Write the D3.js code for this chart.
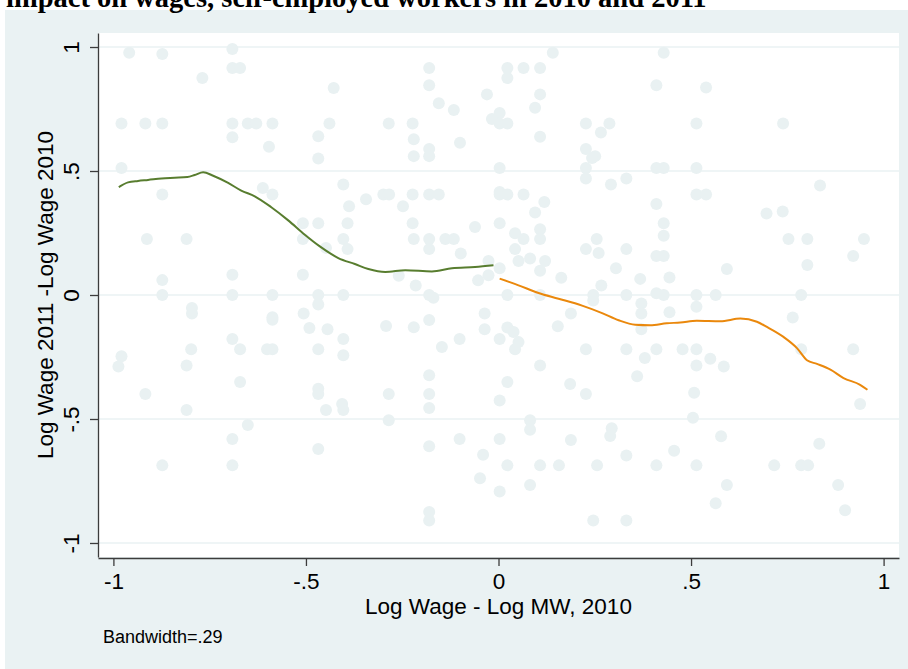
<!DOCTYPE html>
<html>

<head>
    <meta charset="UTF-8">
    <style>
        body { margin: 0; background: #ffffff; }
        svg { display: block; }
    </style>
</head>

<body>
    <svg></svg>
    <script src="https://d3js.org/d3.v7.min.js"></script>

    <script>

        let width = 908, height = 669;

        // scatter: [log wage - log MW 2010, log wage 2011 - log wage 2010]
        let scatterPoints = [
            [-0.959, 0.977], [-0.873, 0.972], [-0.691, 0.992], [-0.691, 0.915], [-0.671, 0.915], [-0.769, 0.875], [-0.428, 0.835],
            [-0.979, 0.692], [-0.917, 0.692], [-0.873, 0.692], [-0.691, 0.692], [-0.651, 0.692], [-0.629, 0.692], [-0.587, 0.692], [-0.439, 0.692],
            [-0.691, 0.636], [-0.596, 0.598], [-0.468, 0.64], [-0.468, 0.55], [-0.979, 0.512], [-0.873, 0.405], [-0.612, 0.431], [-0.587, 0.405],
            [-0.403, 0.446], [-0.388, 0.358], [-0.344, 0.386], [-0.508, 0.289], [-0.468, 0.289], [-0.392, 0.289], [-0.913, 0.226], [-0.81, 0.226],
            [-0.508, 0.226], [-0.403, 0.226], [-0.448, 0.19], [-0.392, 0.185], [-0.873, 0.06], [-0.691, 0.082], [-0.508, 0.082],
            [-0.873, 0], [-0.691, 0], [-0.587, 0], [-0.468, 0], [-0.403, 0], [-0.796, -0.052], [-0.796, -0.075], [-0.587, -0.09], [-0.587, -0.1],
            [-0.468, -0.038], [-0.506, -0.075], [-0.491, -0.133], [-0.444, -0.138], [-0.691, -0.177], [-0.403, -0.177], [-0.979, -0.247], [-0.987, -0.288],
            [-0.798, -0.219], [-0.81, -0.284], [-0.671, -0.219], [-0.601, -0.219], [-0.587, -0.219], [-0.468, -0.219], [-0.403, -0.243],
            [-0.917, -0.399], [-0.671, -0.351], [-0.468, -0.378], [-0.468, -0.399], [-0.406, -0.44], [-0.403, -0.464], [-0.448, -0.464], [-0.81, -0.464],
            [-0.651, -0.524], [-0.691, -0.581], [-0.468, -0.621], [-0.873, -0.687], [-0.691, -0.687],
            [-0.18, 0.915], [-0.18, 0.846], [-0.155, 0.773], [-0.116, 0.746], [-0.285, 0.692], [-0.223, 0.692], [-0.22, 0.628], [-0.22, 0.56], [-0.18, 0.589], [-0.18, 0.56],
            [-0.1, 0.614], [-0.03, 0.809], [-0.017, 0.71], [0.003, 0.734], [0.003, 0.692], [0.023, 0.692], [0.023, 0.915], [0.023, 0.875], [0.065, 0.915], [0.108, 0.915],
            [0.108, 0.809], [0.095, 0.755], [0.108, 0.638], [0.141, 0.977], [0.227, 0.692], [0.288, 0.692], [0.266, 0.655], [0.227, 0.589], [0.251, 0.56], [0.243, 0.552],
            [0.227, 0.512], [0.227, 0.47], [0.292, 0.446], [0.332, 0.47], [0.003, 0.512], [-0.299, 0.405], [-0.284, 0.405], [-0.223, 0.405], [-0.18, 0.405], [-0.155, 0.405],
            [-0.248, 0.358], [-0.223, 0.289], [-0.061, 0.274], [0.003, 0.415], [0.003, 0.405], [0.023, 0.405], [0.065, 0.405], [0.119, 0.375], [0.095, 0.333], [0.003, 0.289],
            [0.043, 0.249], [0.108, 0.265], [0.108, 0.226], [0.065, 0.226], [-0.22, 0.226], [-0.18, 0.226], [-0.18, 0.185], [-0.138, 0.226], [-0.116, 0.226], [-0.098, 0.167],
            [0.043, 0.185], [0.052, 0.137], [0.082, 0.147], [0.121, 0.137], [0.108, 0.098], [0.163, 0.07], [0.227, 0.185], [0.255, 0.226], [0.26, 0.169], [0.332, 0.185],
            [0.305, 0.108], [0.267, 0.038], [0.246, 0], [0.246, -0.022], [0.332, 0], [-0.259, 0.078], [-0.215, 0.038], [-0.18, 0], [-0.169, -0.011], [-0.053, 0.059],
            [-0.026, 0.08], [-0.026, 0.137], [0.003, 0.108], [0.023, 0], [0.108, 0], [-0.292, -0.125], [-0.22, -0.13], [-0.18, -0.101], [-0.147, -0.21], [-0.101, -0.177],
            [-0.036, -0.075], [-0.036, -0.138], [0.003, -0.177], [0.023, -0.131], [0.039, -0.149], [0.052, -0.19], [0.043, -0.219], [0.154, -0.126], [0.188, -0.075], [0.227, -0.219],
            [0.332, -0.219], [0.108, -0.284], [0.023, -0.351], [0.003, -0.425], [0.186, -0.359], [0.227, -0.399], [-0.285, -0.399], [-0.18, -0.324], [-0.18, -0.399], [-0.18, -0.456],
            [-0.285, -0.505], [0.082, -0.505], [0.082, -0.543], [0.294, -0.537], [0.29, -0.569], [-0.18, -0.61], [-0.101, -0.581], [0.003, -0.581], [0.188, -0.585], [-0.04, -0.644],
            [0.023, -0.687], [0.108, -0.687], [0.157, -0.687], [0.256, -0.687], [0.332, -0.647], [-0.048, -0.739], [0.003, -0.792], [0.082, -0.766], [-0.18, -0.875], [-0.18, -0.909],
            [0.246, -0.909], [0.332, -0.909],
            [0.429, 0.977], [0.41, 0.846], [0.539, 0.837], [0.514, 0.692], [0.739, 0.692], [0.41, 0.512], [0.429, 0.512], [0.514, 0.512], [0.514, 0.405], [0.539, 0.405],
            [0.835, 0.442], [0.41, 0.367], [0.696, 0.329], [0.738, 0.337], [0.429, 0.289], [0.429, 0.239], [0.753, 0.226], [0.802, 0.226], [0.949, 0.226], [0.41, 0.157],
            [0.429, 0.157], [0.921, 0.157], [0.802, 0.121], [0.593, 0.105], [0.368, 0.065], [0.444, 0.071], [0.41, 0.007], [0.429, 0], [0.514, 0], [0.564, 0],
            [0.786, 0], [0.371, -0.034], [0.371, -0.075], [0.371, -0.138], [0.444, -0.07], [0.514, -0.047], [0.764, -0.091], [0.41, -0.219], [0.478, -0.219], [0.514, -0.219],
            [0.786, -0.219], [0.921, -0.219], [0.38, -0.254], [0.36, -0.328], [0.514, -0.284], [0.55, -0.257], [0.585, -0.288], [0.508, -0.394], [0.505, -0.495], [0.939, -0.44],
            [0.578, -0.57], [0.456, -0.628], [0.833, -0.6], [0.41, -0.687], [0.514, -0.687], [0.716, -0.687], [0.786, -0.687], [0.804, -0.687], [0.593, -0.766], [0.882, -0.766],
            [0.564, -0.84], [0.9, -0.868]
        ];

        // lowess fit below the minimum wage (x < 0)
        let lowessBelow = [
            [-0.986, 0.435], [-0.962, 0.454], [-0.936, 0.46], [-0.91, 0.464], [-0.875, 0.47], [-0.841, 0.473], [-0.808, 0.476],
            [-0.789, 0.484], [-0.767, 0.495], [-0.741, 0.481], [-0.702, 0.452], [-0.668, 0.421], [-0.633, 0.398], [-0.59, 0.354],
            [-0.546, 0.301], [-0.503, 0.243], [-0.464, 0.196], [-0.416, 0.149], [-0.373, 0.125], [-0.338, 0.105], [-0.294, 0.093],
            [-0.242, 0.1], [-0.173, 0.095], [-0.121, 0.108], [-0.061, 0.113], [-0.013, 0.12]
        ];

        // lowess fit above the minimum wage (x > 0)
        let lowessAbove = [
            [0.003, 0.066], [0.052, 0.039], [0.104, 0.008], [0.156, -0.015], [0.217, -0.043], [0.269, -0.073], [0.312, -0.102],
            [0.355, -0.12], [0.394, -0.122], [0.437, -0.114], [0.472, -0.111], [0.515, -0.104], [0.576, -0.106], [0.628, -0.095],
            [0.671, -0.108], [0.697, -0.129], [0.74, -0.169], [0.775, -0.214], [0.801, -0.263], [0.827, -0.278], [0.862, -0.301],
            [0.896, -0.335], [0.939, -0.362], [0.958, -0.382]
        ];

        let tickValues = [-1, -0.5, 0, 0.5, 1];
        let tickLabels = ["-1", "-.5", "0", ".5", "1"];

        let titleText = "impact on wages, self-employed workers in 2010 and 2011";
        let xTitle = "Log Wage - Log MW, 2010";
        let yTitle = "Log Wage 2011 -Log Wage 2010";
        let noteText = "Bandwidth=.29";

        let bg = "#eaf2f3";
        let font = "'Liberation Sans', Arial, Helvetica, sans-serif";

        let svg = d3.select("svg")
            .attr("width", width)
            .attr("height", height)
            .attr("viewBox", "0 0 " + width + " " + height)

        let plot = { left: 98, right: 899, top: 33, bottom: 557 };

        let x = d3.scaleLinear().domain([-1.04, 1.04]).range([plot.left, plot.right]);
        let y = d3.scaleLinear().domain([-1.0565, 1.0565]).range([plot.bottom, plot.top]);

        // graph region
        svg.append("rect")
            .attr("x", 5).attr("y", 10)
            .attr("width", width - 5).attr("height", height - 10)
            .attr("fill", bg)

        // plot region
        svg.append("rect")
            .attr("x", plot.left).attr("y", plot.top)
            .attr("width", plot.right - plot.left).attr("height", plot.bottom - plot.top)
            .attr("fill", "#ffffff")

        // title (cut off at the top, as in the source image)
        svg.append("text")
            .attr("x", 6).attr("y", 6.5)
            .attr("font-family", "'Liberation Serif', 'Times New Roman', serif")
            .attr("font-weight", "bold")
            .attr("font-size", 28.5)
            .attr("fill", "#000")
            .text(titleText)

        // gridlines
        svg.append("g")
            .selectAll("line")
            .data(tickValues)
            .enter()
            .append("line")
            .attr("x1", plot.left).attr("x2", plot.right)
            .attr("y1", d => y(d)).attr("y2", d => y(d))
            .attr("stroke", bg)
            .attr("stroke-width", 1.6)

        // scatter
        svg.append("g")
            .selectAll("circle")
            .data(scatterPoints)
            .enter()
            .append("circle")
            .attr("cx", d => x(d[0]))
            .attr("cy", d => y(d[1]))
            .attr("r", 6)
            .attr("fill", "#e9f1f2")

        let line = d3.line()
            .x(d => x(d[0]))
            .y(d => y(d[1]))
            .curve(d3.curveMonotoneX)

        svg.append("path")
            .datum(lowessBelow)
            .attr("d", line)
            .attr("fill", "none")
            .attr("stroke", "#587d2f")
            .attr("stroke-width", 2)

        svg.append("path")
            .datum(lowessAbove)
            .attr("d", line)
            .attr("fill", "none")
            .attr("stroke", "#ea880c")
            .attr("stroke-width", 2)

        let fmt = d => tickLabels[tickValues.indexOf(d)];

        // y axis
        let yAxis = svg.append("g")
            .attr("transform", "translate(" + plot.left + ",0)")
            .call(d3.axisLeft(y).tickValues(tickValues).tickFormat(fmt).tickSize(8).tickSizeOuter(0))

        yAxis.selectAll("text")
            .attr("transform", "rotate(-90)")
            .attr("x", 0)
            .attr("y", -19)
            .attr("dy", 0)
            .attr("text-anchor", "middle")

        // x axis
        let xAxis = svg.append("g")
            .attr("transform", "translate(0," + (plot.bottom + 1) + ")")
            .call(d3.axisBottom(x).tickValues(tickValues).tickFormat(fmt).tickSize(8).tickSizeOuter(0))

        xAxis.selectAll("text")
            .attr("y", 31)
            .attr("dy", 0)

        svg.selectAll(".tick text")
            .attr("font-family", font)
            .attr("font-size", 22.5)
            .attr("fill", "#000")

        svg.selectAll(".domain, .tick line")
            .attr("stroke", "#3c3c3c")
            .attr("stroke-width", 1.3)

        // axis titles
        svg.append("text")
            .attr("x", (x(-1) + x(1)) / 2)
            .attr("y", 614)
            .attr("text-anchor", "middle")
            .attr("font-family", font)
            .attr("font-size", 22.5)
            .text(xTitle)

        svg.append("text")
            .attr("transform", "translate(53," + y(0) + ") rotate(-90)")
            .attr("text-anchor", "middle")
            .attr("font-family", font)
            .attr("font-size", 22.5)
            .text(yTitle)

        // note
        svg.append("text")
            .attr("x", 103)
            .attr("y", 642.5)
            .attr("font-family", font)
            .attr("font-size", 18)
            .text(noteText)

    </script>
</body>

</html>
